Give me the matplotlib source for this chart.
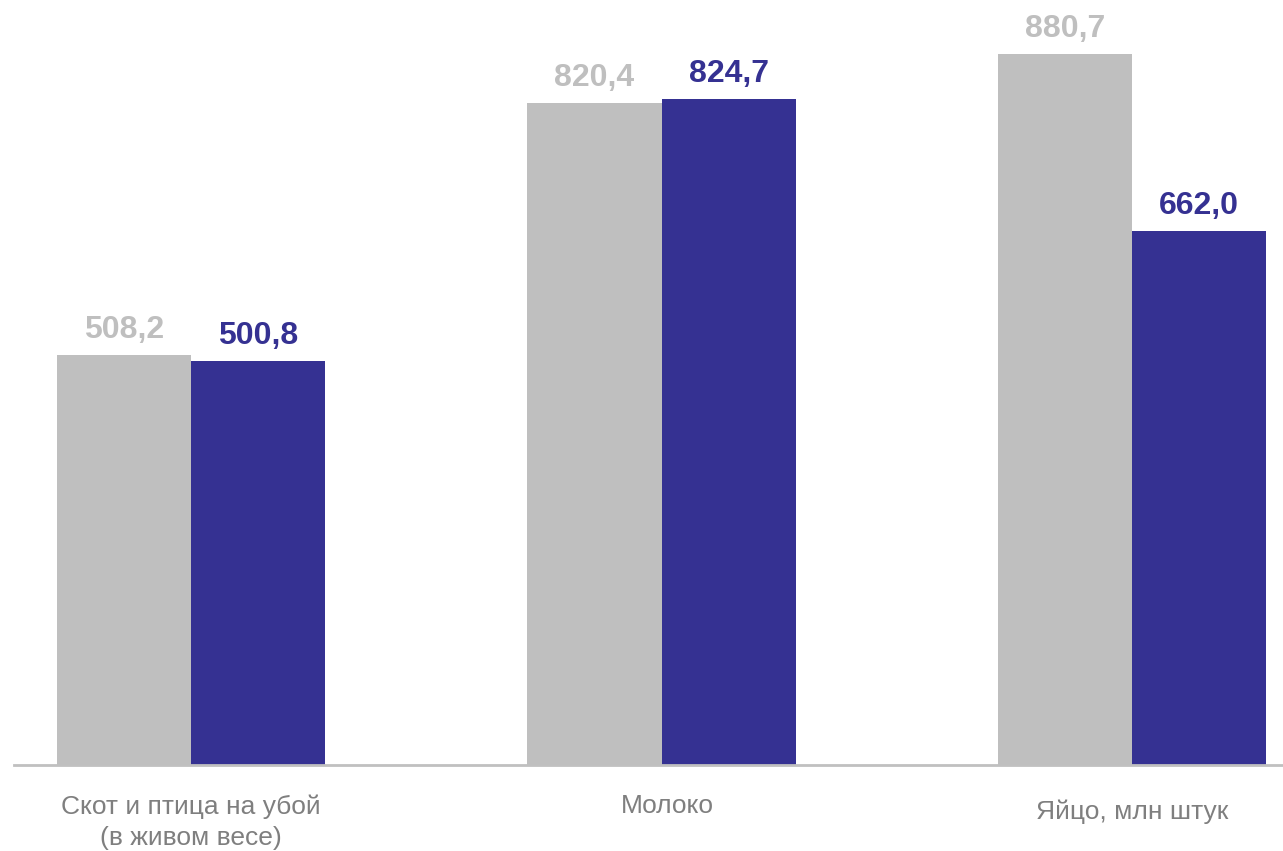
import matplotlib.pyplot as plt
import matplotlib.transforms as mtransforms
import numpy as np

plt.rcParams['font.family'] = ['Liberation Sans', 'DejaVu Sans']

# Data
categories = ['Скот и птица на убой\n(в живом весе)', 'Молоко', 'Яйцо, млн штук']
prev_values = [508.2, 820.4, 880.7]
curr_values = [500.8, 824.7, 662.0]
prev_labels = ['508,2', '820,4', '880,7']
curr_labels = ['500,8', '824,7', '662,0']

gray = '#BFBFBF'
navy = '#353192'
label_color = '#7F7F7F'

W, H = 1283, 851
fig = plt.figure(figsize=(W / 100, H / 100), dpi=100)
# axes placed in pixel terms: baseline at y=765 from top
ax = fig.add_axes([14 / W, (H - 765) / H, (W - 14) / W, 765 / H])

x = np.arange(len(categories))
width = 0.285
ax.bar(x - width / 2, prev_values, width, color=gray, linewidth=0)
ax.bar(x + width / 2, curr_values, width, color=navy, linewidth=0)

ax.set_xlim((14 - 191) / 470.5, (1283 - 191) / 470.5)
ax.set_ylim(0, 765 / 0.8073)

for xi, v, lab in zip(x, prev_values, prev_labels):
    ax.annotate(lab, (xi - width / 2, v), xytext=(0, 7), textcoords='offset points',
                ha='center', va='bottom', fontsize=23, fontweight='bold', color=gray)
for xi, v, lab in zip(x, curr_values, curr_labels):
    ax.annotate(lab, (xi + width / 2, v), xytext=(0, 7), textcoords='offset points',
                ha='center', va='bottom', fontsize=23, fontweight='bold', color=navy)

# Category labels under the axis
trans = mtransforms.blended_transform_factory(ax.transData, fig.transFigure)
label_y = [(H - 822) / H, (H - 806) / H, (H - 812) / H]
label_dx = [0.0, 0.012, 0.0]
for xi, cat, ly, dx in zip(x, categories, label_y, label_dx):
    ax.text(xi + dx, ly, cat, transform=trans, ha='center', va='center',
            fontsize=19, color=label_color, linespacing=1.35)

for side in ['top', 'right', 'left']:
    ax.spines[side].set_visible(False)
ax.spines['bottom'].set_color('#C0C0C0')
ax.spines['bottom'].set_linewidth(2)
ax.set_xticks([])
ax.set_yticks([])

fig.savefig('out.png', dpi=100)
